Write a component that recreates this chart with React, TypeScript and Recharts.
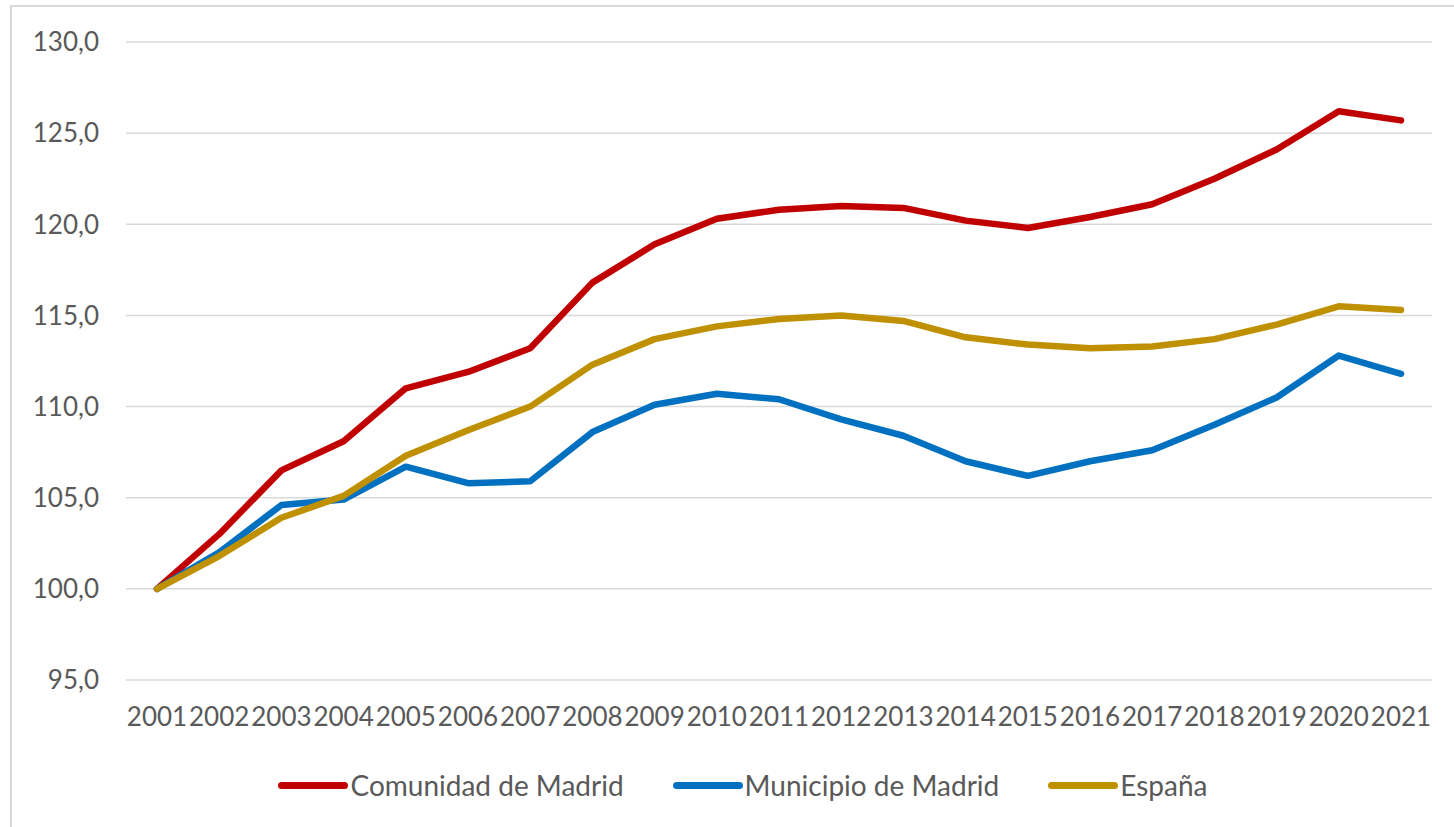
import { LineChart, Line, XAxis, YAxis, CartesianGrid, Legend } from 'recharts';

const years = ['2001', '2002', '2003', '2004', '2005', '2006', '2007', '2008', '2009', '2010', '2011',
    '2012', '2013', '2014', '2015', '2016', '2017', '2018', '2019', '2020', '2021'];

const comunidad = [100.0, 103.0, 106.5, 108.1, 111.0, 111.9, 113.2, 116.8, 118.9, 120.3, 120.8,
    121.0, 120.9, 120.2, 119.8, 120.4, 121.1, 122.5, 124.1, 126.2, 125.7];

const municipio = [100.0, 102.0, 104.6, 104.9, 106.7, 105.8, 105.9, 108.6, 110.1, 110.7, 110.4,
    109.3, 108.4, 107.0, 106.2, 107.0, 107.6, 109.0, 110.5, 112.8, 111.8];

const espana = [100.0, 101.8, 103.9, 105.1, 107.3, 108.7, 110.0, 112.3, 113.7, 114.4, 114.8,
    115.0, 114.7, 113.8, 113.4, 113.2, 113.3, 113.7, 114.5, 115.5, 115.3];

const yTicks = [95, 100, 105, 110, 115, 120, 125, 130];

const series = [
    { key: 'comunidad', name: 'Comunidad de Madrid', color: '#C00000' },
    { key: 'municipio', name: 'Municipio de Madrid', color: '#0070C0' },
    { key: 'espana', name: 'España', color: '#BF9000' },
];

const data = years.map((year, i) => ({
    year,
    comunidad: comunidad[i],
    municipio: municipio[i],
    espana: espana[i],
}));

const font = 'Lato, "Open Sans", sans-serif';
const textColor = '#595959';

const formatValue = (v: number) => v.toFixed(1).replace('.', ',');

const LegendContent = () => (
    <div style={{ display: 'flex', justifyContent: 'center', alignItems: 'center', paddingLeft: 54, height: 50 }}>
        {series.map((s, i) => (
            <div key={s.key} style={{ display: 'flex', alignItems: 'center', marginLeft: i === 0 ? 0 : 49 }}>
                <div style={{ width: 70, height: 7, borderRadius: 4, background: s.color }} />
                <span style={{ marginLeft: 2, fontFamily: font, fontSize: 28, color: textColor }}>{s.name}</span>
            </div>
        ))}
    </div>
);

export default function App() {
    return (
        <div style={{ position: 'absolute', left: 0, top: 0, width: 1454, height: 827, background: '#fff' }}>
            <div style={{
                position: 'absolute', left: 10, top: 5, width: 1444, height: 822,
                borderLeft: '2px solid #d9d9d9', borderTop: '2px solid #d9d9d9', boxSizing: 'border-box'
            }} />
            <div style={{ position: 'absolute', left: 0, top: 0 }}>
                <LineChart width={1454} height={827} data={data} margin={{ top: 42, right: 22, bottom: 17, left: 0 }}>
                    <CartesianGrid vertical={false} stroke="#d9d9d9" strokeWidth={1.5} />
                    <XAxis
                        dataKey="year"
                        height={80}
                        interval={0}
                        axisLine={false}
                        tickLine={false}
                        tickSize={0}
                        tickMargin={28}
                        padding={{ left: 31, right: 31 }}
                        tick={{ fill: textColor, fontSize: 26, fontFamily: font }}
                    />
                    <YAxis
                        width={126}
                        domain={[95, 130]}
                        ticks={yTicks}
                        axisLine={false}
                        tickLine={false}
                        tickSize={0}
                        tickMargin={27}
                        tickFormatter={formatValue}
                        tick={{ fill: textColor, fontSize: 26, fontFamily: font }}
                    />
                    <Legend verticalAlign="bottom" height={50} content={<LegendContent />} />
                    {series.map((s) => (
                        <Line
                            key={s.key}
                            type="linear"
                            dataKey={s.key}
                            name={s.name}
                            stroke={s.color}
                            strokeWidth={6.5}
                            strokeLinecap="round"
                            strokeLinejoin="round"
                            dot={false}
                            activeDot={false}
                            isAnimationActive={false}
                        />
                    ))}
                </LineChart>
            </div>
        </div>
    );
}
